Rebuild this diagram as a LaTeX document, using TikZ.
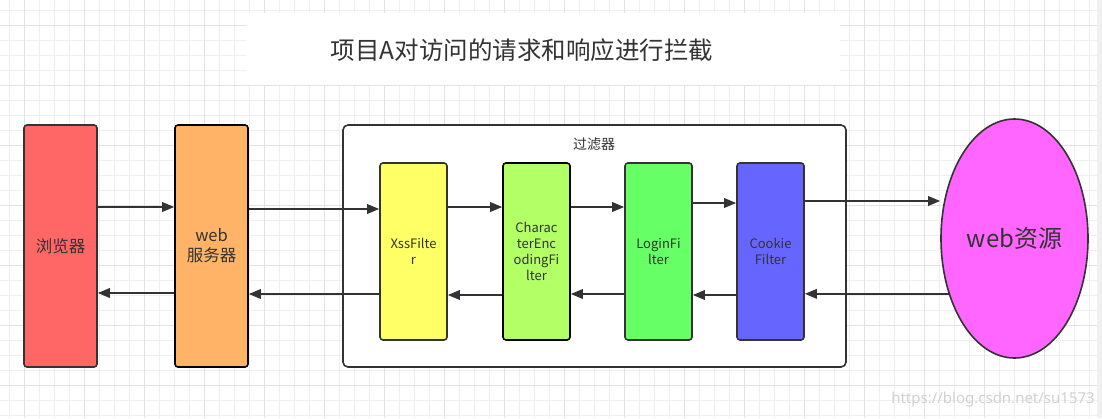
\documentclass[tikz,border=0pt]{standalone}
\usepackage{fontspec}
\setmainfont{Noto Sans CJK SC}
\usetikzlibrary{arrows.meta,shapes.geometric}
\definecolor{ink}{HTML}{333333}
\definecolor{gminor}{HTML}{EFEFEF}
\definecolor{gmajor}{HTML}{E2E2E2}
\definecolor{cbrowser}{HTML}{FF6666}
\definecolor{cweb}{HTML}{FFB366}
\definecolor{cxss}{HTML}{FFFF66}
\definecolor{cchar}{HTML}{B3FF66}
\definecolor{clogin}{HTML}{66FF66}
\definecolor{ccookie}{HTML}{6666FF}
\definecolor{cres}{HTML}{FF66FF}
\tikzset{
  box/.style={draw=ink, line width=1.6pt, rounded corners=3pt, inner sep=2pt, text=ink, align=center},
  bigbox/.style={box, minimum width=73pt, minimum height=242pt, font=\fontsize{16.5}{20}\selectfont},
  fbox/.style={box, minimum width=67pt, minimum height=177pt, font=\fontsize{13}{16}\selectfont},
  arr/.style={draw=ink, line width=1.8pt, -{Triangle[length=12pt,width=9.5pt]}},
}
\begin{document}
\begin{tikzpicture}[x=1pt,y=-1pt]
\useasboundingbox (0,0) rectangle (1102,418);
\fill[white] (0,0) rectangle (1102,418);
% grid
\foreach \i in {0,...,72} {\draw[gminor, line width=0.8pt] ({9+15*\i},0) -- ({9+15*\i},418);}
\foreach \j in {0,...,27} {\draw[gminor, line width=0.8pt] (0,{10+15*\j}) -- (1097,{10+15*\j});}
\foreach \i in {0,...,17} {\draw[gmajor, line width=0.9pt] ({24+60*\i},0) -- ({24+60*\i},418);}
\foreach \j in {0,...,6} {\draw[gmajor, line width=0.9pt] (0,{25+60*\j}) -- (1097,{25+60*\j});}
\fill[white!94!black] (1097,0) rectangle (1102,418);
% title
\fill[white] (247,13) rectangle (840,85);
\node[text=ink, font=\fontsize{24.5}{28}\selectfont] (title) at (522,50) {项目A对访问的请求和响应进行拦截};
% filter container
\node[draw=ink, line width=1.6pt, rounded corners=5pt, fill=white, minimum width=503pt, minimum height=242pt] (filters) at (594.5,246) {};
\node[text=ink, font=\fontsize{14}{16}\selectfont] (flabel) at (594,144) {过滤器};
% boxes
\node[bigbox, fill=cbrowser] (browser) at (60.5,246) {浏览器};
\node[bigbox, fill=cweb, draw=black] (web) at (211.5,246) {web\\服务器};
\node[fbox, fill=cxss] (xss) at (413.5,251.5) {XssFilte\\r};
\node[fbox, fill=cchar, draw=black] (char) at (536.5,251.5) {Charac\\terEnc\\odingFi\\lter};
\node[fbox, fill=clogin] (login) at (658.5,251.5) {LoginFi\\lter};
\node[fbox, fill=ccookie] (cookie) at (770.5,251.5) {Cookie\\Filter};
\node[ellipse, draw=ink, line width=1.6pt, fill=cres, minimum width=147pt, minimum height=239pt, inner sep=0pt, text=ink, font=\fontsize{24}{28}\selectfont] (res) at (1014.5,238.5) {web资源};
% request arrows
\draw[arr] (browser.east |- 0,207) -- (web.west |- 0,207);
\draw[arr] (web.east |- 0,209) -- (xss.west |- 0,209);
\draw[arr] (xss.east |- 0,207) -- (char.west |- 0,207);
\draw[arr] (char.east |- 0,207) -- (login.west |- 0,207);
\draw[arr] (login.east |- 0,203) -- (cookie.west |- 0,203);
\draw[arr] (cookie.east |- 0,201) -- (res.west |- 0,201);
% response arrows
\draw[arr] (res.220.4) -- (cookie.east |- res.220.4);
\draw[arr] (cookie.west |- 0,295) -- (login.east |- 0,295);
\draw[arr] (login.west |- 0,294) -- (char.east |- 0,294);
\draw[arr] (char.west |- 0,295) -- (xss.east |- 0,295);
\draw[arr] (xss.west |- 0,294) -- (web.east |- 0,294);
\draw[arr] (web.west |- 0,293) -- (browser.east |- 0,293);
% watermark
\node[text=black!18, font=\fontsize{15}{18}\selectfont] (wm) at (993,400) {\fontspec{Noto Sans}https://blog.csdn.net/su1573};
\end{tikzpicture}
\end{document}
